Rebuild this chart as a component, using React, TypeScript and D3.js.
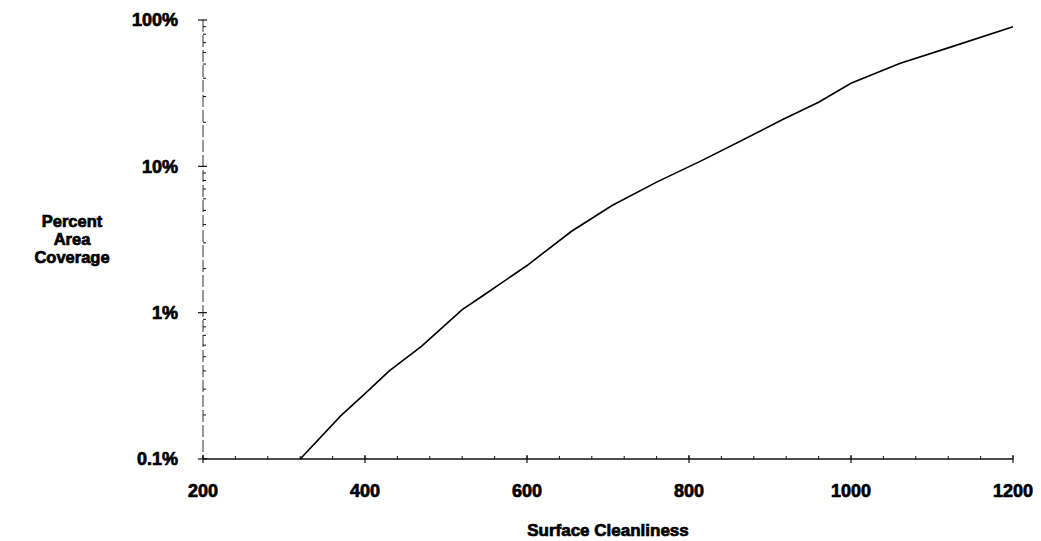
import React from "react";
import * as d3 from "d3";

// Surface Cleanliness (x) vs Percent Area Coverage (y, %)
const cleanliness = [320, 370, 400, 430, 470, 520, 545, 600, 655, 705, 760, 815, 865, 915, 960, 1000, 1060, 1120, 1200];
const coverage = [0.1, 0.197, 0.28, 0.4, 0.59, 1.05, 1.3, 2.1, 3.6, 5.4, 7.8, 10.9, 15, 20.8, 27.4, 37, 50.5, 64.5, 90];

const xTicks = [200, 400, 600, 800, 1000, 1200];
const xMinorTicks = d3.range(200, 1201, 40);
const yTicks = [0.1, 1, 10, 100];
const yTickLabels = ["0.1%", "1%", "10%", "100%"];
const yTitleLines = ["Percent", "Area", "Coverage"];
const xTitle = "Surface Cleanliness";

export default function App() {
  const W = 1041;
  const H = 541;
  const left = 203, right = 1013, top = 20, bottom = 459;
  const x = d3.scaleLinear().domain([200, 1200]).range([left, right]);
  const y = d3.scaleLog().domain([0.1, 100]).range([bottom, top]);
  const yMinor: number[] = [];
  [0.1, 1, 10].forEach((d) => {
    for (let k = 2; k <= 9; k++) yMinor.push(d * k);
  });
  const line = d3
    .line<number>()
    .x((_, i) => x(cleanliness[i]))
    .y((d) => y(d))
    .curve(d3.curveLinear);

  const font = "'Liberation Sans', Arial, sans-serif";
  const heavy = { fontWeight: "bold" as const, fill: "#000", stroke: "#000", strokeWidth: 0.7 };

  return (
    <svg
      width={W}
      height={H}
      style={{ position: "absolute", left: 0, top: 0, background: "#fff" }}
      fontFamily={font}
    >
      {/* y axis */}
      <line x1={left} x2={left} y1={top} y2={bottom} stroke="#333" strokeWidth={1} strokeDasharray="12,3" />
      {yTicks.map((t) => (
        <line key={"ymj" + t} x1={left - 5} x2={left + 4} y1={y(t)} y2={y(t)} stroke="#111" strokeWidth={1.2} />
      ))}
      {yMinor.map((t) => (
        <line key={"ymn" + t} x1={left} x2={left + 3} y1={y(t)} y2={y(t)} stroke="#111" strokeWidth={1} />
      ))}
      {yTicks.map((t, i) => (
        <text key={"yl" + t} x={178} y={y(t)} dy="0.36em" textAnchor="end" fontSize={18} {...heavy}>
          {yTickLabels[i]}
        </text>
      ))}
      {yTitleLines.map((s, i) => (
        <text key={s} x={72} y={227 + i * 18} textAnchor="middle" fontSize={16.5} {...heavy}>
          {s}
        </text>
      ))}

      {/* x axis */}
      <line x1={left} x2={right} y1={bottom} y2={bottom} stroke="#111" strokeWidth={1.5} />
      {xMinorTicks.map((t) => (
        <line key={"xmn" + t} x1={x(t)} x2={x(t)} y1={bottom - 3} y2={bottom} stroke="#111" strokeWidth={1} />
      ))}
      {xTicks.map((t) => (
        <line key={"xmj" + t} x1={x(t)} x2={x(t)} y1={bottom - 4} y2={bottom + 4} stroke="#111" strokeWidth={1.2} />
      ))}
      {xTicks.map((t) => (
        <text key={"xl" + t} x={x(t)} y={497} textAnchor="middle" fontSize={18} {...heavy}>
          {t}
        </text>
      ))}
      <text x={(left + right) / 2} y={536} textAnchor="middle" fontSize={17} {...heavy}>
        {xTitle}
      </text>

      {/* data line */}
      <path d={line(coverage) || ""} fill="none" stroke="#000" strokeWidth={1.6} />
    </svg>
  );
}
